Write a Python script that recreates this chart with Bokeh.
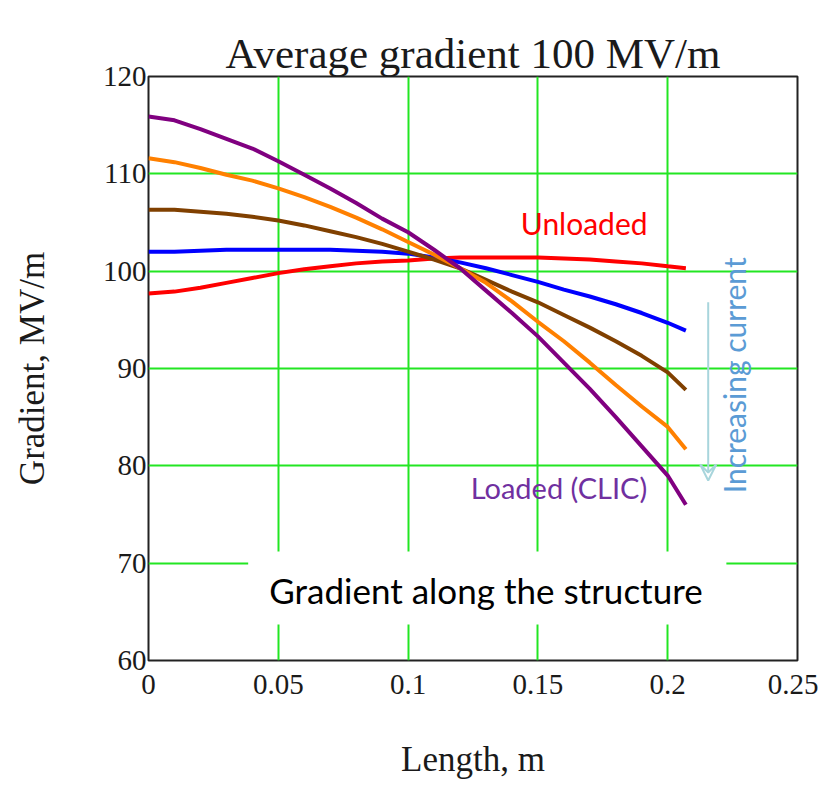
import math
from bokeh.plotting import figure
from bokeh.models import (Label, Arrow, VeeHead, BoxAnnotation, FixedTicker, Range1d, Title)
from bokeh.embed import file_html
from bokeh.resources import INLINE

length = [0, 0.01, 0.02, 0.03, 0.04, 0.05, 0.06, 0.07, 0.08, 0.09, 0.10,
          0.11, 0.12, 0.13, 0.14, 0.15, 0.16, 0.17, 0.18, 0.19, 0.20, 0.207]
unloaded = [97.7, 97.9, 98.3, 98.8, 99.3, 99.8, 100.2, 100.5, 100.8, 101.0, 101.1,
            101.3, 101.4, 101.4, 101.4, 101.4, 101.3, 101.2, 101.0, 100.8, 100.5, 100.3]
blue = [102.0, 102.0, 102.1, 102.2, 102.2, 102.2, 102.2, 102.2, 102.1, 102.0, 101.8,
        101.4, 100.9, 100.3, 99.6, 98.9, 98.1, 97.4, 96.6, 95.7, 94.7, 93.9]
brown = [106.3, 106.3, 106.1, 105.9, 105.6, 105.2, 104.7, 104.1, 103.5, 102.8, 102.0,
         101.2, 100.3, 99.1, 97.9, 96.8, 95.5, 94.2, 92.8, 91.3, 89.6, 87.8]
orange = [111.6, 111.2, 110.6, 109.9, 109.3, 108.5, 107.6, 106.6, 105.5, 104.3, 103.0,
          101.7, 100.3, 98.8, 96.9, 94.8, 92.8, 90.6, 88.3, 86.1, 84.0, 81.7]
loaded = [115.9, 115.5, 114.6, 113.6, 112.6, 111.3, 109.9, 108.5, 107.0, 105.4, 104.0,
          102.2, 100.3, 98.0, 95.7, 93.3, 90.6, 87.9, 85.0, 82.0, 79.0, 76.0]

series = [unloaded, blue, brown, orange, loaded]
series_colors = ["#FF0000", "#0000FF", "#804000", "#FF8000", "#800080"]

x_ticks = [0, 0.05, 0.1, 0.15, 0.2, 0.25]
x_tick_labels = ["0", "0.05", "0.1", "0.15", "0.2", "0.25"]
y_ticks = [60, 70, 80, 90, 100, 110, 120]

p = figure(width=818, height=781, output_backend="svg", toolbar_location=None,
           x_range=Range1d(0, 0.25), y_range=Range1d(60, 120),
           min_border_left=148, min_border_right=21, min_border_top=76,
           min_border_bottom=121,
           x_axis_label="Length, m", y_axis_label="Gradient, MV/m")
p.background_fill_color = "white"
p.border_fill_color = "white"
p.outline_line_color = "#222222"
p.outline_line_width = 2

# invisible spacer (closest to the frame) then the real title above it
p.title.text = "."
p.title.text_color = "white"
p.title.text_font_size = "18px"
p.title.standoff = 0
p.add_layout(Title(text="Average gradient 100 MV/m", align="center",
                   text_font="Liberation Serif", text_font_size="43px",
                   text_font_style="normal", text_color="#1a1a1a", standoff=0),
             "above")

for g in (p.xgrid, p.ygrid):
    g.grid_line_color = "#22E622"
    g.grid_line_width = 2
p.xaxis.ticker = FixedTicker(ticks=x_ticks)
p.yaxis.ticker = FixedTicker(ticks=y_ticks)
p.xaxis.major_label_overrides = {t: s for t, s in zip(x_ticks, x_tick_labels)}
for ax in (p.xaxis, p.yaxis):
    ax.axis_line_color = None
    ax.major_tick_line_color = None
    ax.minor_tick_line_color = None
    ax.major_label_text_font = "Liberation Serif"
    ax.major_label_text_font_size = "29px"
    ax.major_label_text_color = "#1a1a1a"
    ax.axis_label_text_font = "Liberation Serif"
    ax.axis_label_text_font_size = "35px"
    ax.axis_label_text_font_style = "normal"
    ax.axis_label_text_color = "#1a1a1a"
p.xaxis.major_label_standoff = 8
p.yaxis.major_label_standoff = -4
p.xaxis.axis_label_standoff = 43
p.yaxis.axis_label_standoff = 48

for ys, c in zip(series, series_colors):
    p.line(length, ys, line_color=c, line_width=4)

# white box behind the caption
p.add_layout(BoxAnnotation(left=0.0384, right=0.2226, bottom=63.7, top=71.2,
                           fill_color="white", fill_alpha=1.0, line_color=None))

p.add_layout(Label(x=0.13, y=67.2, text="Gradient along the structure",
                   text_font="Lato", text_font_size="35px", text_color="black",
                   text_align="center", text_baseline="middle"))
p.add_layout(Label(x=0.1434, y=105.0, text="Unloaded", text_font="Lato",
                   text_font_size="30px", text_color="#FF0000",
                   text_baseline="middle"))
p.add_layout(Label(x=0.1241, y=77.8, text="Loaded (CLIC)", text_font="Lato",
                   text_font_size="29px", text_color="#7030A0",
                   text_baseline="middle"))
p.add_layout(Label(x=0.2256, y=89.3, text="Increasing current", text_font="Lato",
                   text_font_size="30px", text_color="#5B9BD5", angle=math.pi / 2,
                   text_align="center", text_baseline="middle"))
p.add_layout(Arrow(x_start=0.2156, y_start=96.8, x_end=0.2156, y_end=78.5,
                   line_color="#A8D5DC", line_width=2,
                   end=VeeHead(size=16, line_color="#A8D5DC", line_width=2,
                               fill_color=None)))

open("out.html", "w").write(file_html(p, INLINE))
